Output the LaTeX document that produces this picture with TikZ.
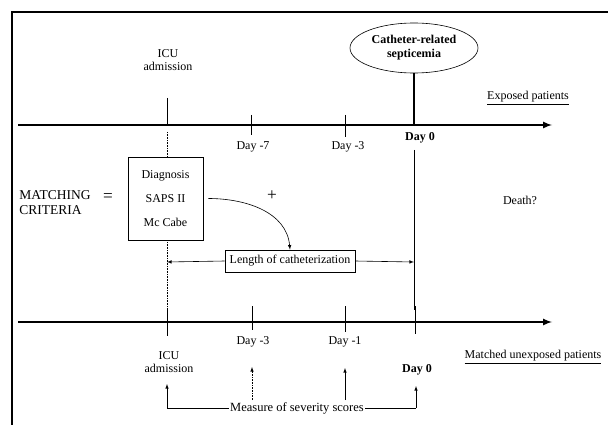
\documentclass[tikz,border=0pt]{standalone}
\usepackage{fontspec}
\setmainfont{Liberation Serif}
\usetikzlibrary{shapes.geometric}
\begin{document}
\begin{tikzpicture}[x=1pt, y=-1pt, >=latex,
  every node/.style={font=\fontsize{12}{13}\selectfont, inner sep=1pt, align=center},
  timeline/.style={->, line width=2pt},
  tick/.style={line width=1pt},
  thin/.style={line width=0.6pt}]
\useasboundingbox (0,0) rectangle (608,425);
% frame
\draw[line width=1.8pt] (608,12) -- (12,12) -- (12,425);

% exposed patients
\node (icuA) at (168,60) {ICU\\admission};
\node (cath) [ellipse, draw, thin, minimum width=128, minimum height=50, font=\fontsize{12}{14}\selectfont\bfseries] at (414,48) {Catheter-related\\septicemia};
\node (exp) at (528,98) {\underline{Exposed patients}};
\coordinate (startA) at (18,125);
\coordinate (endA) at (552,125);
\draw[timeline] (startA) -- (endA);
\coordinate (aIcu) at (167,125);
\coordinate (aSeven) at (251,125);
\coordinate (aThree) at (345,125);
\coordinate (aZero) at (414,125);
\draw[tick] (167,98) -- (aIcu);
\draw[thin] (aSeven) ++(0,-10) -- ++(0,20);
\draw[thin] (aThree) ++(0,-10) -- ++(0,22);
\draw[line width=1.4pt] (cath.south) -- (aZero);
\node (dSeven) at (253,147) {Day -7};
\node (dThree) at (348,147) {Day -3};
\node (dZero) [font=\fontsize{12}{13}\selectfont\bfseries] at (420,138) {Day 0};

% matching
\node (crit) [align=left, font=\fontsize{13.5}{15}\selectfont] at (55,203) {MATCHING\\CRITERIA};
\node (eq) at (108,198) {\LARGE =};
\node (box) [draw, thin, fill=white, minimum width=75, minimum height=83] at (165.5,198.5) {Diagnosis\\[11pt]SAPS II\\[11pt]Mc Cabe};
\node (plus) at (272,196) {\LARGE +};
\node (len) [draw, thin, fill=white, minimum width=130, minimum height=22] at (290,261) {Length of catheterization};
\node (death) at (520,200) {Death?};
\coordinate (lIcu) at (167,262);
\coordinate (lZero) at (414,262);
\draw[thin, densely dotted] (167,132) -- (box.north -| 167,0);
\draw[thin, densely dotted] (box.south -| 167,0) -- (167,310);
\draw[->, thin] ([xshift=5pt]box.east) to[out=0, in=95] (len.north);
\draw[->, thin] (len.west) -- (lIcu);
\draw[->, thin] (len.east) -- (lZero);
\draw[thin] (414,150) -- (414,310);

% matched unexposed patients
\coordinate (startB) at (18,322);
\coordinate (endB) at (552,322);
\draw[timeline] (startB) -- (endB);
\coordinate (bIcu) at (167,322);
\coordinate (bThree) at (252,322);
\coordinate (bOne) at (345,322);
\coordinate (bZero) at (415,322);
\draw[tick] (bIcu) ++(0,-12) -- ++(0,26);
\draw[thin] (bThree) ++(0,-16) -- ++(0,24);
\draw[thin] (bOne) ++(0,-16) -- ++(0,26);
\draw[thin] (bZero) ++(0,-16) -- ++(0,28);
\node (dThreeB) at (253,342) {Day -3};
\node (dOneB) at (345,342) {Day -1};
\node (icuB) at (169,362) {ICU\\admission};
\node (dZeroB) [font=\fontsize{12}{13}\selectfont\bfseries] at (417,370) {Day 0};
\node (unexp) at (533,357) {\underline{Matched unexposed patients}};

% severity scores
\node (sev) [font=\fontsize{12.5}{14}\selectfont] at (297,408) {Measure of severity scores};
\coordinate (mIcu) at (167,408);
\coordinate (mThree) at (252,400);
\coordinate (mOne) at (345,400);
\coordinate (mZero) at (416,408);
\draw[thin] (sev.west) -- (mIcu);
\draw[thin] (sev.east) -- (mZero);
\draw[->, thin] (mIcu) -- (167,384);
\draw[->, thin, densely dotted] (mThree) -- (252,367);
\draw[->, thin] (mOne) -- (345,368);
\draw[->, thin] (mZero) -- (416,386);
\end{tikzpicture}
\end{document}
